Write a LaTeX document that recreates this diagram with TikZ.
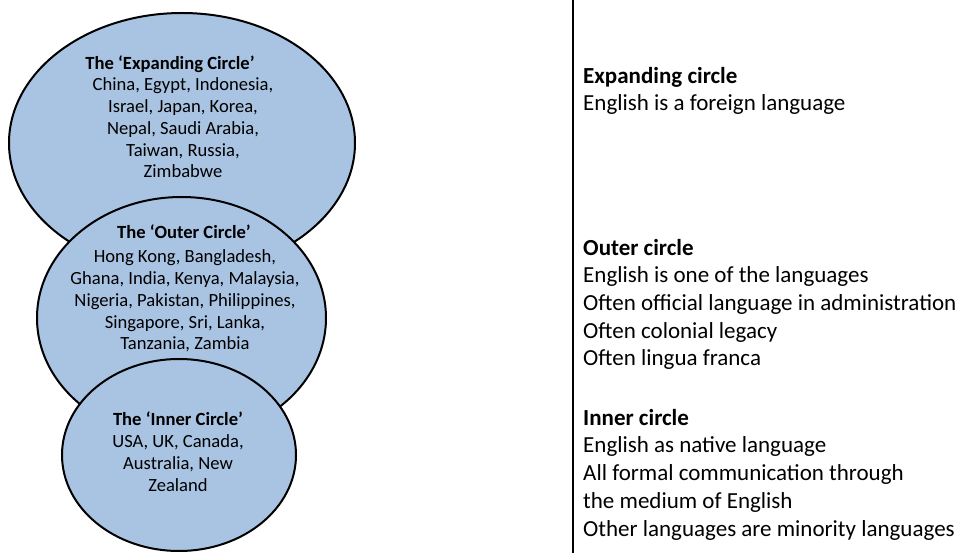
\documentclass[tikz,border=0pt]{standalone}
\usepackage{fontspec}
\setmainfont{Carlito}
\usetikzlibrary{shapes.geometric}
\definecolor{circfill}{RGB}{169,196,226}
\begin{document}
\begin{tikzpicture}[x=1pt,y=-1pt,
  circ/.style={ellipse, draw=black, line width=2pt, fill=circfill, inner sep=0pt},
  lefttxt/.style={align=center, anchor=base, inner sep=0pt, font=\fontsize{18.6}{21.8}\selectfont},
  righttxt/.style={align=left, anchor=base west, inner sep=0pt, font=\fontsize{23}{27.7}\selectfont}]
\useasboundingbox (0,0) rectangle (962,553);
\fill[white] (0,0) rectangle (962,553);
% circles
\node[circ, minimum width=346pt, minimum height=260pt] (expanding) at (182,143) {};
\node[circ, minimum width=289pt, minimum height=242pt] (outer) at (181.5,318) {};
\node[circ, minimum width=234pt, minimum height=192pt] (inner) at (179,455) {};
% circle texts (anchor base = baseline of last line)
\node[lefttxt] (exptitle) at (170,70) {\bfseries The `Expanding Circle'};
\node[lefttxt] (explist) at (183,178) {China, Egypt, Indonesia,\\Israel, Japan, Korea,\\Nepal, Saudi Arabia,\\Taiwan, Russia,\\Zimbabwe};
\node[lefttxt] (outtitle) at (184,239) {\bfseries The `Outer Circle'};
\node[lefttxt] (outlist) at (185,350) {Hong Kong, Bangladesh,\\Ghana, India, Kenya, Malaysia,\\Nigeria, Pakistan, Philippines,\\Singapore, Sri, Lanka,\\Tanzania, Zambia};
\node[lefttxt] (inntitle) at (178,425) {\bfseries The `Inner Circle'};
\node[lefttxt] (innlist) at (178,491) {USA, UK, Canada,\\Australia, New\\Zealand};
% divider
\coordinate (divtop) at (573,0);
\coordinate (divbot) at (573,553);
\draw[line width=2pt] (divtop) -- (divbot);
% right column (anchor base west = baseline of last line)
\node[righttxt] (expdesc) at (583,111) {\textbf{Expanding circle}\\English is a foreign language};
\node[righttxt] (outdesc) at (583,366) {\textbf{Outer circle}\\English is one of the languages\\Often official language in administration\\Often colonial legacy\\Often lingua franca};
\node[righttxt] (inndesc) at (583,536) {\textbf{Inner circle}\\English as native language\\All formal communication through\\the medium of English\\Other languages are minority languages};
\end{tikzpicture}
\end{document}
